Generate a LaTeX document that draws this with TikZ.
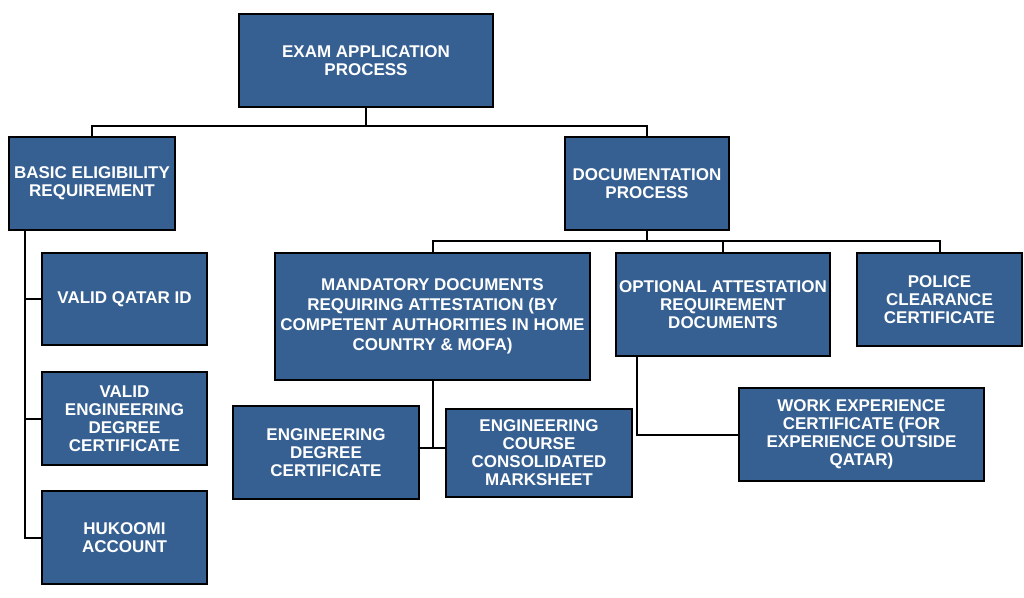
\documentclass[tikz,border=0pt]{standalone}
\usepackage{fontspec}
\setmainfont{Liberation Sans}
\definecolor{boxblue}{RGB}{54,96,146}
\begin{document}
\begin{tikzpicture}[x=0.75pt,y=-0.75pt,
  box/.style={draw=black, line width=1.5pt, fill=boxblue, text=white,
    font=\fontsize{12.75pt}{13.5pt}\selectfont\bfseries, align=center,
    inner sep=0pt, minimum height=69.75pt},
  conn/.style={draw=black, line width=1.5pt}]
\useasboundingbox (0,0) rectangle (1024,598);
\node[box, minimum width=190.5pt] (exam) at (366,60.5) {EXAM APPLICATION\\PROCESS};
\node[box, minimum width=124.5pt] (basic) at (92,183.5) {BASIC ELIGIBILITY\\REQUIREMENT};
\node[box, minimum width=123pt] (doc) at (647,183.5) {DOCUMENTATION\\PROCESS};
\node[box, minimum width=123.75pt, minimum height=69pt] (qid) at (124.5,299) {VALID QATAR ID};
\node[box, minimum width=123.75pt] (vdeg) at (124.5,418.5) {VALID\\ENGINEERING\\DEGREE\\CERTIFICATE};
\node[box, minimum width=123.75pt] (huk) at (124.5,537.5) {HUKOOMI\\ACCOUNT};
\node[box, minimum width=236.25pt, minimum height=95.25pt, font=\fontsize{12.75pt}{15pt}\selectfont\bfseries] (mand) at (432.5,316.5) {MANDATORY DOCUMENTS\\REQUIRING ATTESTATION (BY\\COMPETENT AUTHORITIES IN HOME\\COUNTRY \& MOFA)};
\node[box, minimum width=160.5pt, minimum height=77.25pt] (opt) at (723,304.5) {OPTIONAL ATTESTATION\\REQUIREMENT\\DOCUMENTS};
\node[box, minimum width=123.75pt] (pol) at (939.5,299.5) {POLICE\\CLEARANCE\\CERTIFICATE};
\node[box, minimum width=139.5pt] (edc) at (326,452.5) {ENGINEERING\\DEGREE\\CERTIFICATE};
\node[box, minimum width=139.5pt, minimum height=66pt] (ecm) at (539,453) {ENGINEERING\\COURSE\\CONSOLIDATED\\MARKSHEET};
\node[box, minimum width=183.75pt] (work) at (861.5,434.5) {WORK EXPERIENCE\\CERTIFICATE (FOR\\EXPERIENCE OUTSIDE\\QATAR)};
% connectors
\draw[conn] (exam.south) -- ++(0,18) -| (basic.north);
\draw[conn] (exam.south) -- ++(0,18) -| (doc.north);
\draw[conn] (doc.south) -- ++(0,10) -| (mand.north);
\draw[conn] (doc.south) -- ++(0,10) -| (opt.north);
\draw[conn] (doc.south) -- ++(0,10) -| (pol.north);
\draw[conn] ([xshift=12.75pt]basic.south west) |- (qid.west);
\draw[conn] ([xshift=12.75pt]basic.south west) |- (vdeg.west);
\draw[conn] ([xshift=12.75pt]basic.south west) |- (huk.west);
\draw[conn] (mand.south) -- ++(0,67) coordinate (j);
\draw[conn] (edc.east |- j) -- (ecm.west |- j);
\draw[conn] ([xshift=16.5pt]opt.south west) |- (work.west);
\end{tikzpicture}
\end{document}
